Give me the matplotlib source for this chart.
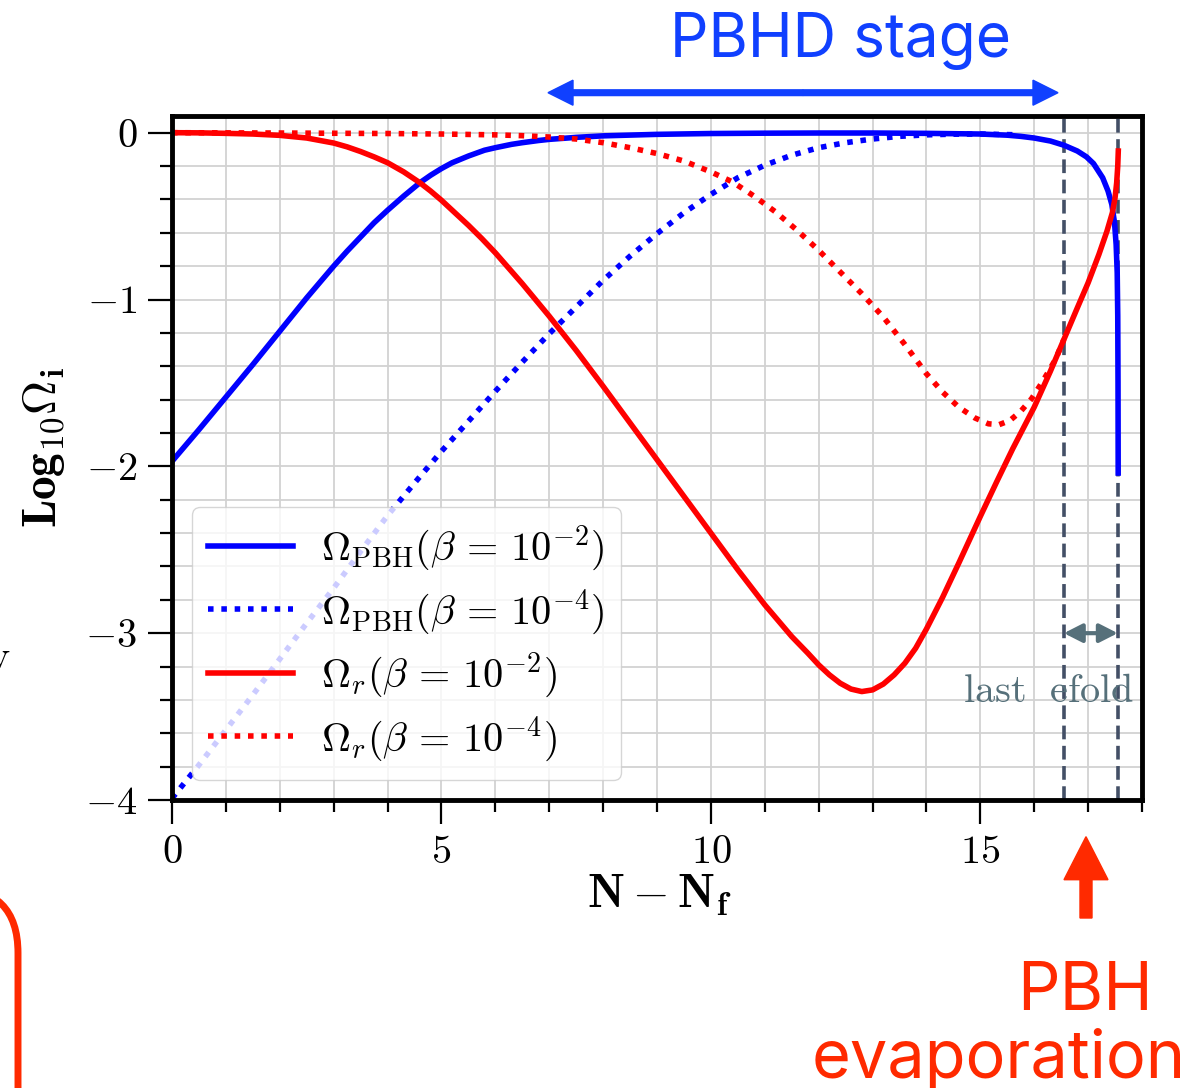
import matplotlib
matplotlib.use('Agg')
import matplotlib.pyplot as plt
from matplotlib.mathtext import MathTextParser
from matplotlib.ticker import MultipleLocator, FuncFormatter
from matplotlib.patches import FancyArrow, FancyBboxPatch
from matplotlib.transforms import IdentityTransform

plt.rcParams['mathtext.fontset'] = 'cm'
plt.rcParams['font.family'] = ['cmr10', 'DejaVu Serif']
plt.rcParams['axes.unicode_minus'] = False

# log10 Omega_PBH, beta = 1e-2
n_pbh2 = [0, 0.5, 1, 1.5, 2, 2.5, 3, 3.25, 3.5, 3.75, 4, 4.3, 4.6, 4.8, 5, 5.2,
          5.5, 5.8, 6, 6.3, 6.5, 6.8, 7, 7.3, 7.5, 8, 9, 10, 11, 12, 13, 14, 15,
          15.5, 15.75, 16, 16.3, 16.55, 16.8, 16.97, 17.1, 17.27, 17.37, 17.44,
          17.49, 17.52, 17.54, 17.55, 17.555, 17.558]
om_pbh2 = [-1.97, -1.78, -1.585, -1.39, -1.19, -0.99, -0.80, -0.71, -0.625, -0.54,
           -0.465, -0.38, -0.30, -0.255, -0.215, -0.18, -0.14, -0.105, -0.09,
           -0.07, -0.06, -0.047, -0.04, -0.033, -0.028, -0.019, -0.010, -0.005,
           -0.003, -0.002, -0.002, -0.004, -0.008, -0.015, -0.022, -0.032, -0.05,
           -0.075, -0.11, -0.145, -0.185, -0.27, -0.35, -0.43, -0.54, -0.67, -0.84,
           -1.1, -1.5, -2.04]

# log10 Omega_PBH, beta = 1e-4
n_pbh4 = [0, 0.5, 1, 1.5, 2, 2.5, 3, 3.5, 4, 4.5, 5, 5.5, 6, 6.5, 7, 7.5, 8, 8.5,
          9, 9.5, 10, 10.5, 11, 11.5, 12, 12.5, 13, 13.5, 14, 14.5, 15, 15.6]
om_pbh4 = [-3.99, -3.79, -3.58, -3.37, -3.155, -2.94, -2.73, -2.51, -2.295, -2.10,
           -1.91, -1.73, -1.55, -1.375, -1.205, -1.045, -0.885, -0.74, -0.605,
           -0.48, -0.37, -0.27, -0.195, -0.135, -0.09, -0.06, -0.038, -0.022,
           -0.013, -0.009, -0.008, -0.012]

# log10 Omega_r, beta = 1e-2
n_r2 = [0, 0.5, 1, 1.5, 2, 2.5, 3, 3.25, 3.5, 3.75, 4, 4.3, 4.6, 4.8, 5, 5.25,
        5.5, 5.75, 6, 6.5, 7, 7.5, 8, 8.5, 9, 9.5, 10, 10.5, 11, 11.5, 11.8, 12,
        12.2, 12.4, 12.6, 12.8, 13, 13.2, 13.4, 13.6, 13.8, 14, 14.3, 14.6, 15,
        15.3, 15.6, 16, 16.3, 16.55, 16.8, 17, 17.2, 17.35, 17.45, 17.5, 17.53,
        17.55, 17.56]
om_r2 = [0, -0.001, -0.004, -0.008, -0.016, -0.032, -0.062, -0.085, -0.113, -0.145,
         -0.18, -0.235, -0.30, -0.35, -0.405, -0.48, -0.555, -0.635, -0.72, -0.905,
         -1.10, -1.305, -1.52, -1.74, -1.96, -2.18, -2.40, -2.62, -2.83, -3.02,
         -3.12, -3.19, -3.25, -3.30, -3.335, -3.35, -3.34, -3.305, -3.25, -3.18,
         -3.09, -2.975, -2.785, -2.58, -2.30, -2.095, -1.895, -1.645, -1.43, -1.24,
         -1.05, -0.90, -0.73, -0.59, -0.48, -0.39, -0.30, -0.20, -0.11]

# log10 Omega_r, beta = 1e-4
n_r4 = [0, 2, 4, 5, 6, 6.5, 7, 7.5, 8, 8.5, 9, 9.5, 10, 10.4, 10.8, 11.2, 11.6, 12,
        12.4, 12.8, 13.2, 13.6, 14, 14.3, 14.6, 14.9, 15.15, 15.35, 15.55, 15.75,
        15.95, 16.1, 16.25, 16.4, 16.55]
om_r4 = [0, -0.002, -0.005, -0.008, -0.013, -0.018, -0.026, -0.038, -0.06, -0.09,
         -0.125, -0.17, -0.235, -0.295, -0.38, -0.475, -0.585, -0.705, -0.835,
         -0.965, -1.105, -1.27, -1.445, -1.555, -1.645, -1.71, -1.745, -1.75,
         -1.725, -1.67, -1.595, -1.52, -1.44, -1.355, -1.24]

n_last = [16.55, 17.55]   # start and end of the last e-fold


def bold_omega():
    # \boldsymbol is not available in every mathtext build
    s = r'$\mathbf{Log_{10}}\boldsymbol{\Omega}_\mathbf{i}$'
    try:
        MathTextParser('path').parse(s)
        return s
    except Exception:
        return r'$\mathbf{Log_{10}\Omega_i}$'


W, H = 1201, 1088
fig = plt.figure(figsize=(W / 100, H / 100), dpi=100)
ax = fig.add_axes([172 / W, 1 - 800 / H, 970 / W, 684 / H])

lw = 4.0
dots = (0, (1, 1.4))
ax.plot(n_pbh2, om_pbh2, color='#0000ff', lw=lw, solid_joinstyle='round',
        label=r'$\Omega_{\rm PBH}(\beta\,=\,10^{-2})$')
ax.plot(n_pbh4, om_pbh4, color='#0000ff', lw=4.0, ls=dots,
        label=r'$\Omega_{\rm PBH}(\beta\,=\,10^{-4})$')
ax.plot(n_r2, om_r2, color='#ff0000', lw=lw, solid_joinstyle='round',
        label=r'$\Omega_{r}(\beta\,=\,10^{-2})$')
ax.plot(n_r4, om_r4, color='#ff0000', lw=4.0, ls=dots,
        label=r'$\Omega_{r}(\beta\,=\,10^{-4})$')

for xv in n_last:
    ax.axvline(xv, color='#434f66', lw=2.6, ls=(0, (3.8, 1.8)), zorder=1.5)

ax.annotate('', xy=(n_last[1], -3.0), xytext=(n_last[0], -3.0),
            arrowprops=dict(arrowstyle='<|-|>,head_length=0.55,head_width=0.28',
                            color='#56707a', lw=3.0, mutation_scale=20,
                            shrinkA=0, shrinkB=0))
ax.text(16.26, -3.41, r'$\mathrm{last\ \ efold}$', color='#56707a', fontsize=29,
        ha='center', va='baseline')

ax.set_xlim(0, 18)
ax.set_ylim(-4, 0.1)
ax.xaxis.set_major_locator(MultipleLocator(5))
ax.xaxis.set_minor_locator(MultipleLocator(1))
ax.yaxis.set_major_locator(MultipleLocator(1))
ax.yaxis.set_minor_locator(MultipleLocator(0.2))
fmt = FuncFormatter(lambda v, p: f'${v:g}$')
ax.xaxis.set_major_formatter(fmt)
ax.yaxis.set_major_formatter(fmt)
ax.tick_params(which='major', direction='out', length=17, width=1.6,
               labelsize=29, pad=8)
ax.tick_params(which='minor', direction='out', length=8.5, width=1.6)
ax.grid(which='both', color='#d2d2d2', lw=1.3)
ax.set_axisbelow(True)
for s in ax.spines.values():
    s.set_linewidth(3.5)

ax.set_xlabel(r'$\mathbf{N-N_f}$', fontsize=34)
ax.set_ylabel(bold_omega(), fontsize=34)
ax.xaxis.set_label_coords(0.502, -0.106)
ax.yaxis.set_label_coords(-0.108, 0.516)

ax.legend(loc='lower left', fontsize=29, handlelength=2.1, handletextpad=0.7,
          labelspacing=0.34, framealpha=0.8)

# annotations around the axes, placed in output pixels
px = IdentityTransform()
blue = '#1040ff'
red = '#ff2a00'
fig.text(840 / W, 1 - 57 / H, 'PBHD stage', family='Inter', fontsize=43.5,
         color=blue, ha='center', va='baseline')
ymid = H - 92.7
for x0, x1 in [(803, 548), (803, 1058)]:
    fig.add_artist(FancyArrow(x0, ymid, x1 - x0, 0, width=5.7, head_width=25,
                              head_length=25, length_includes_head=True,
                              color=blue, transform=px))

fig.add_artist(FancyArrow(1086, H - 918, 0, 918 - 836.7, width=12, head_width=44,
                          head_length=43, length_includes_head=True, color=red,
                          transform=px))
fig.text(1085 / W, 1 - 1010 / H, 'PBH', family='Inter', fontsize=48, color=red,
         ha='center', va='baseline')
fig.text(999 / W, 1 - 1078 / H, 'evaporation', family='Inter', fontsize=48,
         color=red, ha='center', va='baseline')

fig.add_artist(FancyBboxPatch((-400, -200), 418, H - 888 + 200,
                              boxstyle='round,pad=0,rounding_size=65',
                              fill=False, ec=red, lw=5, transform=px))
fig.text(10 / W, 1 - 668 / H, r'$\mathrm{v}$', fontsize=29, ha='right',
         va='baseline')

fig.savefig('out.png', dpi=100)
